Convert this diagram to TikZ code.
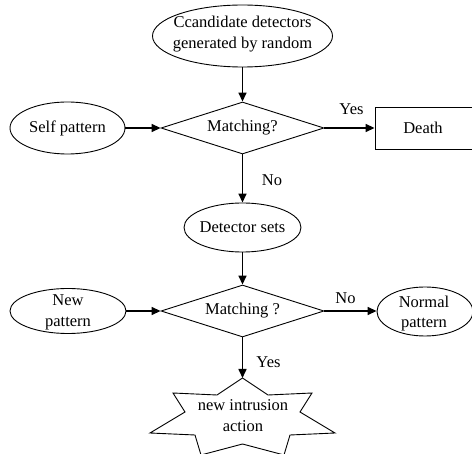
\documentclass[tikz,border=0pt]{standalone}
\usepackage{fontspec}
\setmainfont{Liberation Serif}
\usetikzlibrary{shapes.geometric,arrows.meta}
\begin{document}
\begin{tikzpicture}[x=1pt,y=-1pt,
  txt/.style={font=\fontsize{16.5}{20.5}\selectfont, align=center, inner sep=0pt},
  oval/.style={draw, ellipse, line width=0.9pt, inner sep=0pt},
  decision/.style={draw, diamond, line width=0.9pt, inner sep=0pt,
    minimum width=163pt, minimum height=52pt},
  boxstyle/.style={draw, rectangle, line width=0.9pt, inner sep=0pt,
    minimum width=130pt, minimum height=42pt},
  flow/.style={line width=1.6pt, -{Triangle[length=9pt,width=8pt]}}]
\useasboundingbox (0,0) rectangle (472,454);

% shapes of the flow chart
\node[oval, minimum width=180pt, minimum height=62pt] (cand) at (242.5,36) {};
\node[decision] (m1) at (242.5,128) {};
\node[oval, minimum width=115pt, minimum height=52pt] (self) at (67.5,128) {};
\node[boxstyle] (death) at (440,128.5) {};
\node[oval, minimum width=117pt, minimum height=49pt] (dset) at (242.5,227.5) {};
\node[decision] (m2) at (242.5,311) {};
\node[oval, minimum width=116pt, minimum height=45pt] (newp) at (68,311) {};
\node[oval, minimum width=96pt, minimum height=49pt] (normal) at (425,311.5) {};

% seven-pointed star for the alarm outcome
\draw[line width=0.9pt] (242.5,378) -- (268,395) -- (312,393) -- (300,412)
  -- (335,433) -- (290,435) -- (284,455) -- (242.5,444) -- (201,455)
  -- (195,435) -- (150,433) -- (185,412) -- (173,393) -- (217,395) -- cycle;
\coordinate (startop) at (242.5,378);

% texts
\node[txt] (cand-t) at (242.5,34) {Ccandidate detectors\\generated by random};
\node[txt] (m1-t) at (242.5,128) {Matching?};
\node[txt] (self-t) at (67.5,128) {Self pattern};
\node[txt] (death-t) at (423,128) {Death};
\node[txt] (dset-t) at (242.5,227.5) {Detector sets};
\node[txt] (m2-t) at (242.5,311) {Matching ?};
\node[txt] (newp-t) at (68,312.5) {New\\pattern};
\node[txt] (normal-t) at (424,313.5) {Normal\\pattern};
\node[txt] (star-t) at (243,415.5) {new intrusion\\action};

% edge labels
\node[txt] (yes1) at (351.5,109) {Yes};
\node[txt] (no1) at (272,180) {No};
\node[txt] (no2) at (345.5,298.5) {No};
\node[txt] (yes2) at (268.5,362) {Yes};

% connectors
\draw[flow] (cand) -- (m1);
\draw[flow] (self) -- (m1);
\draw[flow] (m1.east) -- (m1.east -| death.west);
\draw[flow] (m1) -- (dset);
\draw[flow] (dset) -- (m2);
\draw[flow] (newp) -- (m2);
\draw[flow] (m2.east) -- (m2.east -| normal.west);
\draw[flow] (m2.south) -- (startop);
\end{tikzpicture}
\end{document}
